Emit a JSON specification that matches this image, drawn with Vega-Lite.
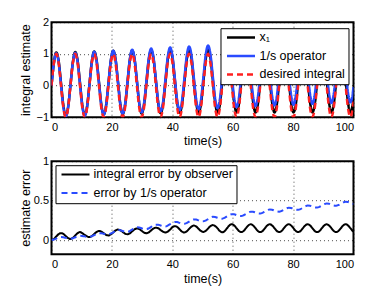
{
 "$schema": "https://vega.github.io/schema/vega-lite/v6.json",
 "padding": {"left": 18.5, "top": 15.2, "right": 5, "bottom": 3},
 "config": {
  "font": "Liberation Sans",
  "view": {"stroke": "black", "strokeWidth": 2},
  "axis": {"labelFont": "Liberation Sans", "labelFontSize": 11, "labelColor": "black", "titleFont": "Liberation Sans", "titleFontSize": 12.5, "titleFontWeight": "normal", "titleColor": "black", "ticks": false, "domain": false, "gridColor": "#000000", "gridDash": [1, 3], "gridWidth": 1, "gridOpacity": 0.7, "format": "~r"},
  "legend": {"fillColor": "white", "strokeColor": "black", "padding": 3, "rowPadding": 5.5, "symbolType": "stroke", "symbolSize": 784, "clipHeight": 12.5, "labelFont": "Liberation Sans", "labelFontSize": 12.5, "labelColor": "black", "labelOffset": 3, "symbolOffset": 2, "labelLimit": 300}
 },
 "data": {"values": [
  {"t":0,"x1":0,"op":0,"des":0,"eo":0,"ep":0},
  {"t":0.79,"x1":0.72,"op":0.713,"des":0.707,"eo":0.013,"ep":0.006},
  {"t":1.57,"x1":1.044,"op":1.019,"des":1,"eo":0.044,"ep":0.019},
  {"t":2.36,"x1":0.781,"op":0.739,"des":0.707,"eo":0.074,"ep":0.032},
  {"t":3.14,"x1":0.087,"op":0.038,"des":0,"eo":0.087,"ep":0.038},
  {"t":3.93,"x1":-0.63,"op":-0.672,"des":-0.707,"eo":0.077,"ep":0.035},
  {"t":4.71,"x1":-0.95,"op":-0.973,"des":-1,"eo":0.05,"ep":0.027},
  {"t":5.5,"x1":-0.683,"op":-0.689,"des":-0.707,"eo":0.024,"ep":0.018},
  {"t":6.28,"x1":0.014,"op":0.016,"des":0,"eo":0.014,"ep":0.016},
  {"t":7.07,"x1":0.734,"op":0.729,"des":0.707,"eo":0.027,"ep":0.022},
  {"t":7.85,"x1":1.057,"op":1.035,"des":1,"eo":0.057,"ep":0.035},
  {"t":8.64,"x1":0.794,"op":0.754,"des":0.707,"eo":0.087,"ep":0.047},
  {"t":9.42,"x1":0.101,"op":0.054,"des":0,"eo":0.101,"ep":0.054},
  {"t":10.21,"x1":-0.621,"op":-0.655,"des":-0.707,"eo":0.086,"ep":0.052},
  {"t":11,"x1":-0.935,"op":-0.954,"des":-1,"eo":0.065,"ep":0.046},
  {"t":11.78,"x1":-0.662,"op":-0.668,"des":-0.707,"eo":0.045,"ep":0.039},
  {"t":12.57,"x1":0.038,"op":0.039,"des":0,"eo":0.038,"ep":0.039},
  {"t":13.35,"x1":0.757,"op":0.755,"des":0.707,"eo":0.05,"ep":0.048},
  {"t":14.14,"x1":1.076,"op":1.063,"des":1,"eo":0.076,"ep":0.063},
  {"t":14.92,"x1":0.809,"op":0.785,"des":0.707,"eo":0.102,"ep":0.078},
  {"t":15.71,"x1":0.114,"op":0.086,"des":0,"eo":0.114,"ep":0.086},
  {"t":16.49,"x1":-0.6,"op":-0.621,"des":-0.707,"eo":0.107,"ep":0.086},
  {"t":17.28,"x1":-0.914,"op":-0.92,"des":-1,"eo":0.086,"ep":0.08},
  {"t":18.06,"x1":-0.642,"op":-0.633,"des":-0.707,"eo":0.065,"ep":0.074},
  {"t":18.85,"x1":0.058,"op":0.074,"des":0,"eo":0.058,"ep":0.074},
  {"t":19.63,"x1":0.778,"op":0.789,"des":0.707,"eo":0.071,"ep":0.082},
  {"t":20.42,"x1":1.096,"op":1.097,"des":1,"eo":0.096,"ep":0.097},
  {"t":21.21,"x1":0.828,"op":0.823,"des":0.707,"eo":0.121,"ep":0.116},
  {"t":21.99,"x1":0.132,"op":0.126,"des":0,"eo":0.132,"ep":0.126},
  {"t":22.78,"x1":-0.583,"op":-0.583,"des":-0.707,"eo":0.124,"ep":0.124},
  {"t":23.56,"x1":-0.897,"op":-0.885,"des":-1,"eo":0.103,"ep":0.115},
  {"t":24.35,"x1":-0.626,"op":-0.602,"des":-0.707,"eo":0.081,"ep":0.105},
  {"t":25.13,"x1":0.073,"op":0.103,"des":0,"eo":0.073,"ep":0.103},
  {"t":25.92,"x1":0.792,"op":0.82,"des":0.707,"eo":0.085,"ep":0.113},
  {"t":26.7,"x1":1.11,"op":1.132,"des":1,"eo":0.11,"ep":0.132},
  {"t":27.49,"x1":0.842,"op":0.857,"des":0.707,"eo":0.135,"ep":0.15},
  {"t":28.27,"x1":0.146,"op":0.161,"des":0,"eo":0.146,"ep":0.161},
  {"t":29.06,"x1":-0.569,"op":-0.548,"des":-0.707,"eo":0.138,"ep":0.159},
  {"t":29.85,"x1":-0.883,"op":-0.851,"des":-1,"eo":0.117,"ep":0.149},
  {"t":30.63,"x1":-0.612,"op":-0.568,"des":-0.707,"eo":0.095,"ep":0.139},
  {"t":31.42,"x1":0.086,"op":0.138,"des":0,"eo":0.086,"ep":0.138},
  {"t":32.2,"x1":0.804,"op":0.855,"des":0.707,"eo":0.097,"ep":0.148},
  {"t":32.99,"x1":1.122,"op":1.166,"des":1,"eo":0.122,"ep":0.166},
  {"t":33.77,"x1":0.853,"op":0.892,"des":0.707,"eo":0.146,"ep":0.185},
  {"t":34.56,"x1":0.157,"op":0.195,"des":0,"eo":0.157,"ep":0.195},
  {"t":35.34,"x1":-0.558,"op":-0.513,"des":-0.707,"eo":0.149,"ep":0.194},
  {"t":36.13,"x1":-0.873,"op":-0.816,"des":-1,"eo":0.127,"ep":0.184},
  {"t":36.91,"x1":-0.602,"op":-0.533,"des":-0.707,"eo":0.105,"ep":0.174},
  {"t":37.7,"x1":0.096,"op":0.172,"des":0,"eo":0.096,"ep":0.172},
  {"t":38.48,"x1":0.814,"op":0.89,"des":0.707,"eo":0.107,"ep":0.183},
  {"t":39.27,"x1":1.132,"op":1.201,"des":1,"eo":0.132,"ep":0.201},
  {"t":40.06,"x1":0.87,"op":0.926,"des":0.707,"eo":0.163,"ep":0.219},
  {"t":40.84,"x1":0.176,"op":0.229,"des":0,"eo":0.176,"ep":0.229},
  {"t":41.63,"x1":-0.542,"op":-0.48,"des":-0.707,"eo":0.165,"ep":0.227},
  {"t":42.41,"x1":-0.864,"op":-0.783,"des":-1,"eo":0.136,"ep":0.217},
  {"t":43.2,"x1":-0.6,"op":-0.5,"des":-0.707,"eo":0.107,"ep":0.207},
  {"t":43.98,"x1":0.096,"op":0.205,"des":0,"eo":0.096,"ep":0.205},
  {"t":44.77,"x1":0.816,"op":0.922,"des":0.707,"eo":0.109,"ep":0.215},
  {"t":45.55,"x1":1.14,"op":1.233,"des":1,"eo":0.14,"ep":0.233},
  {"t":46.34,"x1":0.877,"op":0.958,"des":0.707,"eo":0.17,"ep":0.251},
  {"t":47.12,"x1":0.184,"op":0.261,"des":0,"eo":0.184,"ep":0.261},
  {"t":47.91,"x1":-0.535,"op":-0.448,"des":-0.707,"eo":0.172,"ep":0.259},
  {"t":48.69,"x1":-0.857,"op":-0.751,"des":-1,"eo":0.143,"ep":0.249},
  {"t":49.48,"x1":-0.592,"op":-0.469,"des":-0.707,"eo":0.115,"ep":0.238},
  {"t":50.27,"x1":0.103,"op":0.237,"des":0,"eo":0.103,"ep":0.237},
  {"t":51.05,"x1":0.823,"op":0.954,"des":0.707,"eo":0.116,"ep":0.247},
  {"t":51.84,"x1":1.146,"op":1.265,"des":1,"eo":0.146,"ep":0.265},
  {"t":52.62,"x1":0.883,"op":0.991,"des":0.707,"eo":0.176,"ep":0.284},
  {"t":53.41,"x1":0.189,"op":0.294,"des":0,"eo":0.189,"ep":0.294},
  {"t":54.19,"x1":-0.53,"op":-0.415,"des":-0.707,"eo":0.177,"ep":0.292},
  {"t":54.98,"x1":-0.852,"op":-0.718,"des":-1,"eo":0.148,"ep":0.282},
  {"t":55.76,"x1":-0.594,"op":-0.434,"des":-0.707,"eo":0.113,"ep":0.273},
  {"t":56.55,"x1":0.098,"op":0.271,"des":0,"eo":0.098,"ep":0.271},
  {"t":57.33,"x1":0.82,"op":0.988,"des":0.707,"eo":0.113,"ep":0.281},
  {"t":58.12,"x1":1.149,"op":1.3,"des":1,"eo":0.149,"ep":0.3},
  {"t":58.9,"x1":0.892,"op":1.025,"des":0.707,"eo":0.185,"ep":0.318},
  {"t":59.69,"x1":0.2,"op":0.328,"des":0,"eo":0.2,"ep":0.328},
  {"t":60.48,"x1":-0.522,"op":-0.38,"des":-0.707,"eo":0.185,"ep":0.327},
  {"t":61.26,"x1":-0.85,"op":-0.684,"des":-1,"eo":0.15,"ep":0.316},
  {"t":62.05,"x1":-0.592,"op":-0.401,"des":-0.707,"eo":0.115,"ep":0.306},
  {"t":62.83,"x1":0.1,"op":0.304,"des":0,"eo":0.1,"ep":0.304},
  {"t":63.62,"x1":0.822,"op":1.021,"des":0.707,"eo":0.115,"ep":0.314},
  {"t":64.4,"x1":1.15,"op":1.332,"des":1,"eo":0.15,"ep":0.332},
  {"t":65.19,"x1":0.892,"op":1.057,"des":0.707,"eo":0.185,"ep":0.35},
  {"t":65.97,"x1":0.2,"op":0.36,"des":0,"eo":0.2,"ep":0.36},
  {"t":66.76,"x1":-0.522,"op":-0.349,"des":-0.707,"eo":0.185,"ep":0.358},
  {"t":67.54,"x1":-0.85,"op":-0.652,"des":-1,"eo":0.15,"ep":0.348},
  {"t":68.33,"x1":-0.592,"op":-0.369,"des":-0.707,"eo":0.115,"ep":0.338},
  {"t":69.12,"x1":0.1,"op":0.336,"des":0,"eo":0.1,"ep":0.336},
  {"t":69.9,"x1":0.822,"op":1.052,"des":0.707,"eo":0.115,"ep":0.345},
  {"t":70.69,"x1":1.15,"op":1.362,"des":1,"eo":0.15,"ep":0.362},
  {"t":71.47,"x1":0.892,"op":1.086,"des":0.707,"eo":0.185,"ep":0.379},
  {"t":72.26,"x1":0.2,"op":0.388,"des":0,"eo":0.2,"ep":0.388},
  {"t":73.04,"x1":-0.522,"op":-0.322,"des":-0.707,"eo":0.185,"ep":0.385},
  {"t":73.83,"x1":-0.85,"op":-0.627,"des":-1,"eo":0.15,"ep":0.373},
  {"t":74.61,"x1":-0.592,"op":-0.345,"des":-0.707,"eo":0.115,"ep":0.362},
  {"t":75.4,"x1":0.1,"op":0.359,"des":0,"eo":0.1,"ep":0.359},
  {"t":76.18,"x1":0.822,"op":1.075,"des":0.707,"eo":0.115,"ep":0.368},
  {"t":76.97,"x1":1.15,"op":1.384,"des":1,"eo":0.15,"ep":0.384},
  {"t":77.75,"x1":0.892,"op":1.108,"des":0.707,"eo":0.185,"ep":0.401},
  {"t":78.54,"x1":0.2,"op":0.41,"des":0,"eo":0.2,"ep":0.41},
  {"t":79.33,"x1":-0.522,"op":-0.3,"des":-0.707,"eo":0.185,"ep":0.407},
  {"t":80.11,"x1":-0.85,"op":-0.604,"des":-1,"eo":0.15,"ep":0.396},
  {"t":80.9,"x1":-0.592,"op":-0.322,"des":-0.707,"eo":0.115,"ep":0.385},
  {"t":81.68,"x1":0.1,"op":0.383,"des":0,"eo":0.1,"ep":0.383},
  {"t":82.47,"x1":0.822,"op":1.099,"des":0.707,"eo":0.115,"ep":0.392},
  {"t":83.25,"x1":1.15,"op":1.41,"des":1,"eo":0.15,"ep":0.41},
  {"t":84.04,"x1":0.892,"op":1.134,"des":0.707,"eo":0.185,"ep":0.427},
  {"t":84.82,"x1":0.2,"op":0.437,"des":0,"eo":0.2,"ep":0.437},
  {"t":85.61,"x1":-0.522,"op":-0.273,"des":-0.707,"eo":0.185,"ep":0.434},
  {"t":86.39,"x1":-0.85,"op":-0.576,"des":-1,"eo":0.15,"ep":0.424},
  {"t":87.18,"x1":-0.592,"op":-0.294,"des":-0.707,"eo":0.115,"ep":0.413},
  {"t":87.96,"x1":0.1,"op":0.411,"des":0,"eo":0.1,"ep":0.411},
  {"t":88.75,"x1":0.822,"op":1.127,"des":0.707,"eo":0.115,"ep":0.42},
  {"t":89.54,"x1":1.15,"op":1.438,"des":1,"eo":0.15,"ep":0.438},
  {"t":90.32,"x1":0.892,"op":1.162,"des":0.707,"eo":0.185,"ep":0.455},
  {"t":91.11,"x1":0.2,"op":0.464,"des":0,"eo":0.2,"ep":0.464},
  {"t":91.89,"x1":-0.522,"op":-0.246,"des":-0.707,"eo":0.185,"ep":0.461},
  {"t":92.68,"x1":-0.85,"op":-0.551,"des":-1,"eo":0.15,"ep":0.449},
  {"t":93.46,"x1":-0.592,"op":-0.269,"des":-0.707,"eo":0.115,"ep":0.438},
  {"t":94.25,"x1":0.1,"op":0.435,"des":0,"eo":0.1,"ep":0.435},
  {"t":95.03,"x1":0.822,"op":1.151,"des":0.707,"eo":0.115,"ep":0.444},
  {"t":95.82,"x1":1.15,"op":1.46,"des":1,"eo":0.15,"ep":0.46},
  {"t":96.6,"x1":0.892,"op":1.184,"des":0.707,"eo":0.185,"ep":0.477},
  {"t":97.39,"x1":0.2,"op":0.486,"des":0,"eo":0.2,"ep":0.486},
  {"t":98.17,"x1":-0.522,"op":-0.224,"des":-0.707,"eo":0.185,"ep":0.483},
  {"t":98.96,"x1":-0.85,"op":-0.529,"des":-1,"eo":0.15,"ep":0.471},
  {"t":99.75,"x1":-0.592,"op":-0.247,"des":-0.707,"eo":0.115,"ep":0.46},
  {"t":100,"x1":-0.399,"op":-0.048,"des":-0.506,"eo":0.107,"ep":0.458}
 ]},
 "bounds": "flush",
 "spacing": 44,
 "resolve": {"scale": {"x": "independent", "y": "independent", "color": "independent", "strokeDash": "independent"}},
 "vconcat": [
  {
   "width": 302, "height": 95,
   "transform": [{"fold": ["x1", "op", "des"], "as": ["series", "v"]}],
   "encoding": {
    "x": {"field": "t", "type": "quantitative", "scale": {"domain": [0, 100], "nice": false}, "axis": {"values": [0, 20, 40, 60, 80, 100], "title": "time(s)", "grid": true, "labelPadding": 4, "titlePadding": 2.5}},
    "y": {"field": "v", "type": "quantitative", "scale": {"domain": [-1, 2], "nice": false, "zero": false}, "axis": {"values": [-1, 0, 1, 2], "title": "integral estimate", "grid": true, "labelPadding": 3, "minExtent": 16, "maxExtent": 16, "titlePadding": 3}},
    "color": {"field": "series", "type": "nominal", "scale": {"domain": ["x1", "op", "des"], "range": ["#000000", "#2a4bff", "#ff2020"]}, "legend": {"orient": "none", "legendX": 169, "legendY": 6, "title": null, "zindex": 1, "symbolStrokeWidth": 2.5, "labelExpr": "datum.label === 'x1' ? 'x₁' : datum.label === 'op' ? '1/s operator' : 'desired integral'"}},
    "strokeDash": {"field": "series", "type": "nominal", "scale": {"domain": ["x1", "op", "des"], "range": [[1, 0], [1, 0], [6, 4]]}, "legend": {"orient": "none", "legendX": 169, "legendY": 6, "title": null, "zindex": 1, "symbolStrokeWidth": 2.5, "labelExpr": "datum.label === 'x1' ? 'x₁' : datum.label === 'op' ? '1/s operator' : 'desired integral'"}}
   },
   "layer": [
    {"transform": [{"filter": "datum.series === 'x1'"}], "mark": {"type": "line", "strokeWidth": 2.5, "interpolate": "monotone", "clip": true}},
    {"transform": [{"filter": "datum.series === 'op'"}], "mark": {"type": "line", "strokeWidth": 2.5, "interpolate": "monotone", "clip": true}},
    {"transform": [{"filter": "datum.series === 'des'"}], "mark": {"type": "line", "strokeWidth": 2.5, "interpolate": "monotone", "clip": true}}
   ]
  },
  {
   "width": 302, "height": 93,
   "transform": [{"fold": ["eo", "ep"], "as": ["series", "v"]}],
   "encoding": {
    "x": {"field": "t", "type": "quantitative", "scale": {"domain": [0, 100], "nice": false}, "axis": {"values": [0, 20, 40, 60, 80, 100], "title": "time(s)", "grid": true, "labelPadding": 4, "titlePadding": 3}},
    "y": {"field": "v", "type": "quantitative", "scale": {"domain": [-0.18, 1], "nice": false, "zero": false}, "axis": {"values": [0, 0.5, 1], "title": "estimate error", "grid": true, "labelPadding": 3, "minExtent": 16, "maxExtent": 16, "titlePadding": 3}},
    "color": {"field": "series", "type": "nominal", "scale": {"domain": ["eo", "ep"], "range": ["#000000", "#2a4bff"]}, "legend": {"orient": "none", "legendX": 4, "legendY": 4, "title": null, "zindex": 1, "symbolStrokeWidth": 2, "labelExpr": "datum.label === 'eo' ? 'integral error by observer' : 'error by 1/s operator'"}},
    "strokeDash": {"field": "series", "type": "nominal", "scale": {"domain": ["eo", "ep"], "range": [[1, 0], [6, 4]]}, "legend": {"orient": "none", "legendX": 4, "legendY": 4, "title": null, "zindex": 1, "symbolStrokeWidth": 2, "labelExpr": "datum.label === 'eo' ? 'integral error by observer' : 'error by 1/s operator'"}}
   },
   "layer": [
    {"transform": [{"filter": "datum.series === 'eo'"}], "mark": {"type": "line", "strokeWidth": 2, "interpolate": "monotone", "clip": true}},
    {"transform": [{"filter": "datum.series === 'ep'"}], "mark": {"type": "line", "strokeWidth": 2, "interpolate": "monotone", "clip": true}}
   ]
  }
 ]
}
